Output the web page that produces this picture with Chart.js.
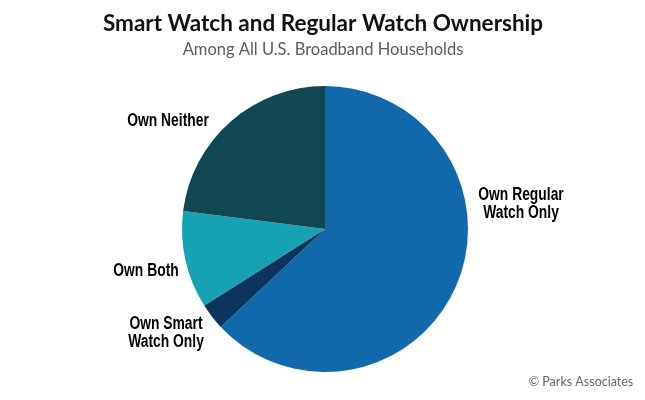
<!DOCTYPE html>
<html>
<head>
<meta charset="utf-8">
<script src="https://cdn.jsdelivr.net/npm/chart.js@4/dist/chart.umd.min.js"></script>
<style>
html,body{margin:0;padding:0;background:#fff;}
#wrap{position:relative;width:645px;height:400px;}
</style>
</head>
<body>
<div id="wrap"><canvas id="c" width="645" height="400"></canvas></div>
<script>
const categories = ["Own Regular Watch Only", "Own Smart Watch Only", "Own Both", "Own Neither"];
const values = [63, 3, 11, 23];
const colors = ["#1169ac", "#0c355d", "#15a3b3", "#114753"];
const labelLines = [["Own Regular", "Watch Only"], ["Own Smart", "Watch Only"], ["Own Both"], ["Own Neither"]];
const titleText = "Smart Watch and Regular Watch Ownership";
const subtitleText = "Among All U.S. Broadband Households";
const creditText = "\u00A9 Parks Associates";

const labelFont = "bold 18px 'Liberation Sans', Arial, sans-serif";
const labelSqueeze = 0.77;
// label baseline of first line relative to pie centre (dx = line centre)
const labelPlace = [
  {dx: 196, dy: -29},
  {dx: -159, dy: 100},
  {dx: -179, dy: 47},
  {dx: -157, dy: -103}
];

const textPlugin = {
  id: "texts",
  afterDraw(chart) {
    const ctx = chart.ctx;
    ctx.save();
    ctx.textBaseline = "alphabetic";
    ctx.textAlign = "center";
    ctx.fillStyle = "#111";
    ctx.font = "bold 22.5px Lato, 'Open Sans', sans-serif";
    ctx.fillText(titleText, 323, 31);
    ctx.fillStyle = "#5c5c5c";
    ctx.font = "16.5px Lato, 'Open Sans', sans-serif";
    ctx.fillText(subtitleText, 323, 54.5);
    ctx.font = "12.5px Lato, 'Open Sans', sans-serif";
    ctx.fillStyle = "#666";
    ctx.fillText(creditText, 581, 386);

    const meta = chart.getDatasetMeta(0);
    const arc0 = meta.data[0];
    const cx = arc0.x, cy = arc0.y;
    ctx.fillStyle = "#000";
    ctx.font = labelFont;
    labelLines.forEach((lines, i) => {
      const p = labelPlace[i];
      const lh = 18;
      lines.forEach((ln, j) => {
        ctx.save();
        ctx.translate(cx + p.dx, cy + p.dy + j * lh);
        ctx.scale(labelSqueeze, 1);
        ctx.textAlign = "center";
        ctx.fillText(ln, 0, 0);
        ctx.restore();
      });
    });
    ctx.restore();
  }
};

new Chart(document.getElementById("c"), {
  type: "pie",
  data: {
    labels: categories,
    datasets: [{
      data: values,
      backgroundColor: colors,
      borderWidth: 0
    }]
  },
  options: {
    responsive: false,
    animation: false,
    layout: {padding: {top: 86, bottom: 28, left: 182, right: 177}},
    plugins: {
      legend: {display: false},
      tooltip: {enabled: false},
      title: {display: false}
    }
  },
  plugins: [textPlugin]
});
</script>
</body>
</html>
